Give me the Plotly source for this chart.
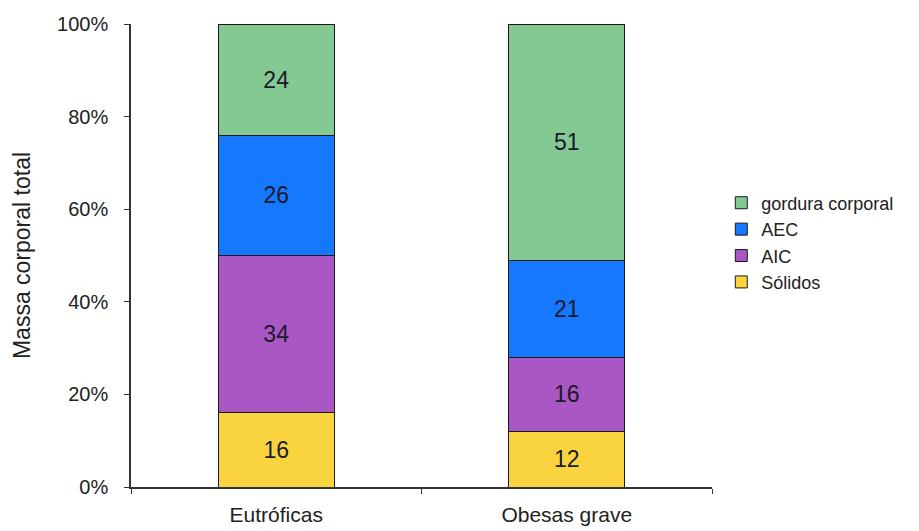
import plotly.graph_objects as go

categories = ["Eutróficas", "Obesas grave"]
series_names = ["Sólidos", "AIC", "AEC", "gordura corporal"]
solidos = [16, 12]
aic = [34, 16]
aec = [26, 21]
gordura = [24, 51]
y_ticks = [0, 20, 40, 60, 80, 100]
y_tick_labels = ["0%", "20%", "40%", "60%", "80%", "100%"]

values = [solidos, aic, aec, gordura]
colors = ["#f9d43e", "#a957c2", "#1677ff", "#84c893"]

FONT = "Liberation Sans, Arial, sans-serif"

fig = go.Figure()
for name, vals, col in zip(series_names, values, colors):
    fig.add_trace(go.Bar(
        x=categories, y=vals, name=name,
        marker=dict(color=col, line=dict(color="#1a1a1a", width=1)),
        text=[str(v) for v in vals], textposition="inside",
        insidetextanchor="middle",
        textfont=dict(family=FONT, size=23, color="#1a1a2a"),
        width=0.4,
    ))

fig.update_layout(
    barmode="stack",
    width=919, height=531,
    margin=dict(l=131, r=207, t=24, b=44),
    paper_bgcolor="white", plot_bgcolor="white",
    font=dict(family=FONT, size=20, color="#222"),
    legend=dict(x=1.016, y=0.528, xanchor="left", yanchor="middle",
                traceorder="reversed", font=dict(family=FONT, size=18, color="#222"),
                itemwidth=30, bgcolor="rgba(0,0,0,0)"),
    uniformtext=dict(mode=False),
)
fig.update_xaxes(
    showline=True, linecolor="#333", linewidth=1.5,
    ticks="outside", tickson="boundaries", ticklen=5, tickcolor="#333",
    ticklabelstandoff=8, showgrid=False, automargin=False,
    tickfont=dict(family=FONT, size=21, color="#222"),
)
fig.update_yaxes(
    range=[0, 100], tickmode="array", tickvals=y_ticks, ticktext=y_tick_labels,
    showline=True, linecolor="#333", linewidth=1.5,
    ticks="outside", ticklen=5, tickcolor="#333",
    ticklabelstandoff=12, showgrid=False, zeroline=False, automargin=False,
    title=dict(text="Massa corporal total", standoff=20,
               font=dict(family=FONT, size=23, color="#222")),
    tickfont=dict(family=FONT, size=20, color="#222"),
)

fig.write_html("out.html")
